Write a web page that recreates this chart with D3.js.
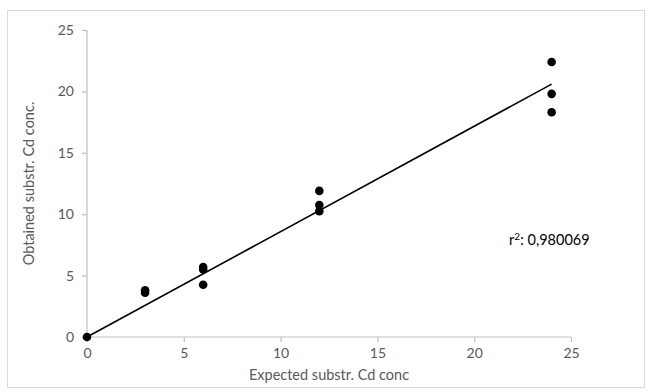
<!DOCTYPE html>
<html><head><meta charset="utf-8">
<script src="https://cdn.jsdelivr.net/npm/d3@7"></script>
<style>
html,body{margin:0;padding:0;background:#fff;}
svg{display:block;font-family:Lato, "Open Sans", sans-serif;}
</style></head>
<body>
<svg id="chart" width="649" height="392"></svg>
<script>
const expected = [0, 3, 3, 6, 6, 6, 12, 12, 12, 24, 24, 24];
const obtained = [0, 3.6, 3.8, 5.7, 5.5, 4.25, 11.9, 10.75, 10.25, 22.4, 19.8, 18.3];
const xTicks = [0, 5, 10, 15, 20, 25];
const yTicks = [0, 5, 10, 15, 20, 25];
const xTitle = "Expected substr. Cd conc";
const yTitle = "Obtained substr. Cd conc.";
const r2Label = "0,980069";

const svg = d3.select("#chart");
const W = 649, H = 392;
const m = {left: 87, right: 78, top: 30, bottom: 55};

svg.append("rect").attr("x", 7.5).attr("y", 10.5).attr("width", W - 12).attr("height", H - 15)
  .attr("fill", "#fff").attr("stroke", "#d9d9d9").attr("stroke-width", 1);

const x = d3.scaleLinear().domain([0, 25]).range([m.left, W - m.right]);
const y = d3.scaleLinear().domain([0, 25]).range([H - m.bottom, m.top]);

const xAxis = svg.append("g").attr("transform", `translate(0,${y(0)})`)
  .call(d3.axisBottom(x).tickValues(xTicks).tickSize(5).tickPadding(6));
const yAxis = svg.append("g").attr("transform", `translate(${x(0)},0)`)
  .call(d3.axisLeft(y).tickValues(yTicks).tickSize(5).tickPadding(8));
[xAxis, yAxis].forEach(g => {
  g.select(".domain").attr("stroke", "#bfbfbf").attr("stroke-width", 1.2);
  g.selectAll(".tick line").attr("stroke", "#bfbfbf").attr("stroke-width", 1.2);
  g.selectAll(".tick text").attr("fill", "#595959").attr("font-size", 14)
    .attr("font-family", "Lato, 'Open Sans', sans-serif");
});
xAxis.select(".domain").attr("d", `M${x(0)},0H${x(25)}`);
yAxis.select(".domain").attr("d", `M0,${y(0)}V${y(25)}`);

// least-squares trend line through the origin
const sxy = d3.sum(expected, (d, i) => d * obtained[i]);
const sxx = d3.sum(expected, d => d * d);
const slope = sxy / sxx;
const xmin = d3.min(expected), xmax = d3.max(expected);
svg.append("line")
  .attr("x1", x(xmin)).attr("y1", y(slope * xmin))
  .attr("x2", x(xmax)).attr("y2", y(slope * xmax))
  .attr("stroke", "#000").attr("stroke-width", 1.6);

svg.append("g").selectAll("circle").data(expected).join("circle")
  .attr("cx", d => x(d)).attr("cy", (d, i) => y(obtained[i]))
  .attr("r", 4.3).attr("fill", "#000");

svg.append("text").attr("x", (m.left + W - m.right) / 2).attr("y", H - 12)
  .attr("text-anchor", "middle").attr("fill", "#595959").attr("font-size", 14.5).text(xTitle);
svg.append("text").attr("transform", `translate(34,${(m.top + H - m.bottom) / 2}) rotate(-90)`)
  .attr("text-anchor", "middle").attr("fill", "#595959").attr("font-size", 14.5).text(yTitle);

const rt = svg.append("text").attr("x", x(21.8)).attr("y", y(7.5))
  .attr("fill", "#000").attr("font-size", 14.5);
rt.append("tspan").text("r");
rt.append("tspan").attr("dy", -5).attr("font-size", 10).text("2");
rt.append("tspan").attr("dy", 5).text(": " + r2Label);
</script>
</body></html>
